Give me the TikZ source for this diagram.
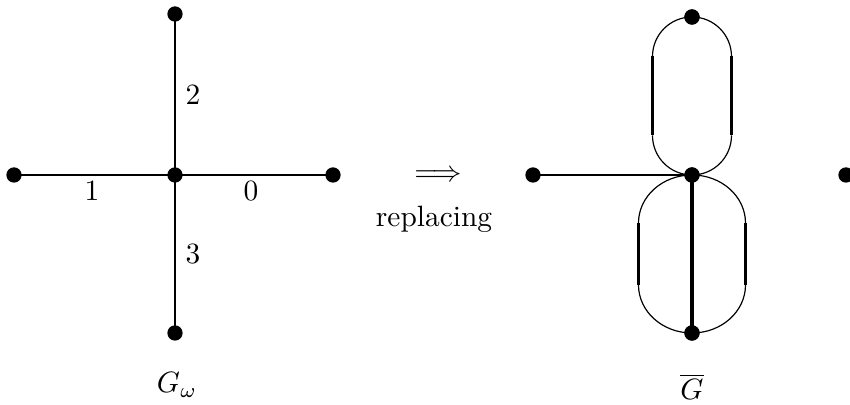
\documentclass[tikz,border=0pt]{standalone}
\usepackage{amsmath}
\begin{document}
\begin{tikzpicture}[x=0.34pt,y=0.34pt,
  vdot/.style={circle,fill=black,inner sep=0pt,minimum size=5.2pt},
  edge/.style={line width=1pt},
  thinarc/.style={line width=0.4pt},
  loopside/.style={line width=0.8pt},
  lab/.style={inner sep=0pt}]
\useasboundingbox (0,0) rectangle (850,405);
% left graph
\node[vdot] (c) at (175,230) {};
\node[vdot] (l) at (14,230) {};
\node[vdot] (r) at (333,230) {};
\node[vdot] (t) at (175,391) {};
\node[vdot] (b) at (175,72) {};
\draw[edge] (l.center) -- (c.center);
\draw[edge] (c.center) -- (r.center);
\draw[edge] (t.center) -- (c.center);
\draw[edge] (c.center) -- (b.center);
\node[lab] (e1) at (92,214) {1};
\node[lab] (e0) at (251,214) {0};
\node[lab] (e2) at (193,310) {2};
\node[lab] (e3) at (193,151) {3};
\node[lab] (gw) at (177,20) {$G_\omega$};
% arrow
\node[lab] (arr) at (438,229) {$\Longrightarrow$};
\node[lab] (rep) at (434,186) {replacing};
% right graph
\node[vdot] (C) at (692,230) {};
\node[vdot] (L) at (533,230) {};
\node[vdot] (T) at (692,388) {};
\node[vdot] (B) at (692,72) {};
\node[vdot] (R) at (846,230) {};
\coordinate (ul1) at (652.5,348.5);
\coordinate (ul2) at (652.5,269.5);
\coordinate (ur1) at (731.5,348.5);
\coordinate (ur2) at (731.5,269.5);
\coordinate (ll1) at (638.5,182);
\coordinate (ll2) at (638.5,120);
\coordinate (lr1) at (745.5,182);
\coordinate (lr2) at (745.5,120);
% upper loop
\draw[thinarc] (T.center) arc[start angle=90,end angle=180,radius=39.5];
\draw[thinarc] (T.center) arc[start angle=90,end angle=0,radius=39.5];
\draw[thinarc] (ul2) arc[start angle=180,end angle=270,radius=39.5];
\draw[thinarc] (ur2) arc[start angle=0,end angle=-90,radius=39.5];
\draw[loopside] (ul1) -- (ul2);
\draw[loopside] (ur1) -- (ur2);
% lower loop
\draw[thinarc] (C.center) arc[start angle=90,end angle=180,x radius=53.5,y radius=48];
\draw[thinarc] (C.center) arc[start angle=90,end angle=0,x radius=53.5,y radius=48];
\draw[thinarc] (ll2) arc[start angle=180,end angle=270,x radius=53.5,y radius=48];
\draw[thinarc] (lr2) arc[start angle=0,end angle=-90,x radius=53.5,y radius=48];
\draw[loopside] (ll1) -- (ll2);
\draw[line width=1.1pt] (lr1) -- (lr2);
\draw[line width=0.8pt] (L.center) -- (C.center);
\draw[line width=1.3pt] (C.center) -- (B.center);
\node[vdot] at (C) {};
\node[vdot] at (T) {};
\node[vdot] at (B) {};
\node[lab] (gb) at (692,18) {$\overline{G}$};
\end{tikzpicture}
\end{document}
